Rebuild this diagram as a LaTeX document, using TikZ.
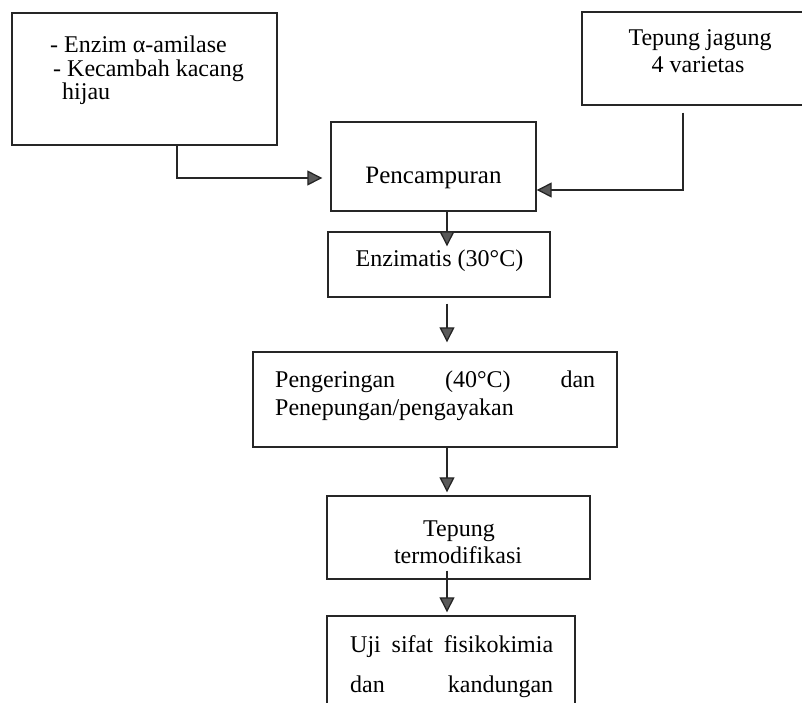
\documentclass[tikz,border=0pt]{standalone}
\usepackage{fontspec}
\setmainfont{Liberation Serif}
\usetikzlibrary{arrows.meta,calc}
\begin{document}
\begin{tikzpicture}[x=1pt,y=-1pt,
  box/.style={draw=black!85,line width=1.4pt,inner sep=0pt,minimum width=#1},
  txt/.style={inner sep=0pt,font=\fontsize{24}{28}\selectfont},
  conn/.style={draw=black!85,line width=1.3pt,-{Triangle[length=15pt,width=15pt,fill=black!65]}}]
\useasboundingbox (0,0) rectangle (802,702);
% boxes
\node[box=265pt,minimum height=132pt] (A) at (144.5,79) {};
\node[box=236pt,minimum height=93pt] (B) at (700,58.5) {};
\node[box=205pt,minimum height=89pt] (P) at (433.5,166.5) {};
\node[box=222pt,minimum height=65pt] (E) at (439,264.5) {};
\node[box=364pt,minimum height=95pt] (G) at (435,399.5) {};
\node[box=263pt,minimum height=83pt] (T) at (458.5,537.5) {};
\node[box=248pt,minimum height=110pt] (U) at (451,671) {};
% texts
\node[txt,anchor=base west] (a1) at (50,52) {- Enzim α-amilase};
\node[txt,anchor=base west] (a2) at (53,76) {- Kecambah kacang};
\node[txt,anchor=base west] (a3) at (62,99) {hijau};
\node[txt,anchor=base] (b1) at (700,45) {Tepung jagung};
\node[txt,anchor=base] (b2) at (698,72) {4 varietas};
\node[txt,anchor=base,font=\fontsize{25}{28}\selectfont] (p1) at (433.5,183) {Pencampuran};
\node[txt,anchor=base] (e1) at (439.5,266) {Enzimatis (30°C)};
\node[txt,anchor=base west] (g1) at (275,387) {\makebox[320pt][s]{Pengeringan\hfill(40°C)\hfill dan}};
\node[txt,anchor=base west] (g2) at (275,415) {Penepungan/pengayakan};
\node[txt,anchor=base] (t1) at (459,536) {Tepung};
\node[txt,anchor=base] (t2) at (458,563) {termodifikasi};
\node[txt,anchor=base west] (u1) at (350,652) {\makebox[203pt][s]{Uji\hfill sifat\hfill fisikokimia}};
\node[txt,anchor=base west] (u2) at (350,692) {\makebox[203pt][s]{dan\hfill kandungan}};
% connectors
\coordinate (ax) at (447,0);
\draw[conn,shorten >=8pt] ([xshift=32.5pt]A.south) |- ([yshift=-11.5pt]P.west);
\draw[conn,shorten <=7pt] ([xshift=-17pt]B.south) |- ([yshift=-23.5pt]P.east);
\draw[conn,shorten >=-15pt] (P.south -| ax) -- (E.north -| ax);
\draw[conn,shorten <=6pt,shorten >=9pt] (E.south -| ax) -- (G.north -| ax);
\draw[conn,shorten >=3pt] (G.south -| ax) -- (T.north -| ax);
\draw[conn,shorten <=-9pt,shorten >=3pt] (T.south -| ax) -- (U.north -| ax);
\end{tikzpicture}
\end{document}
